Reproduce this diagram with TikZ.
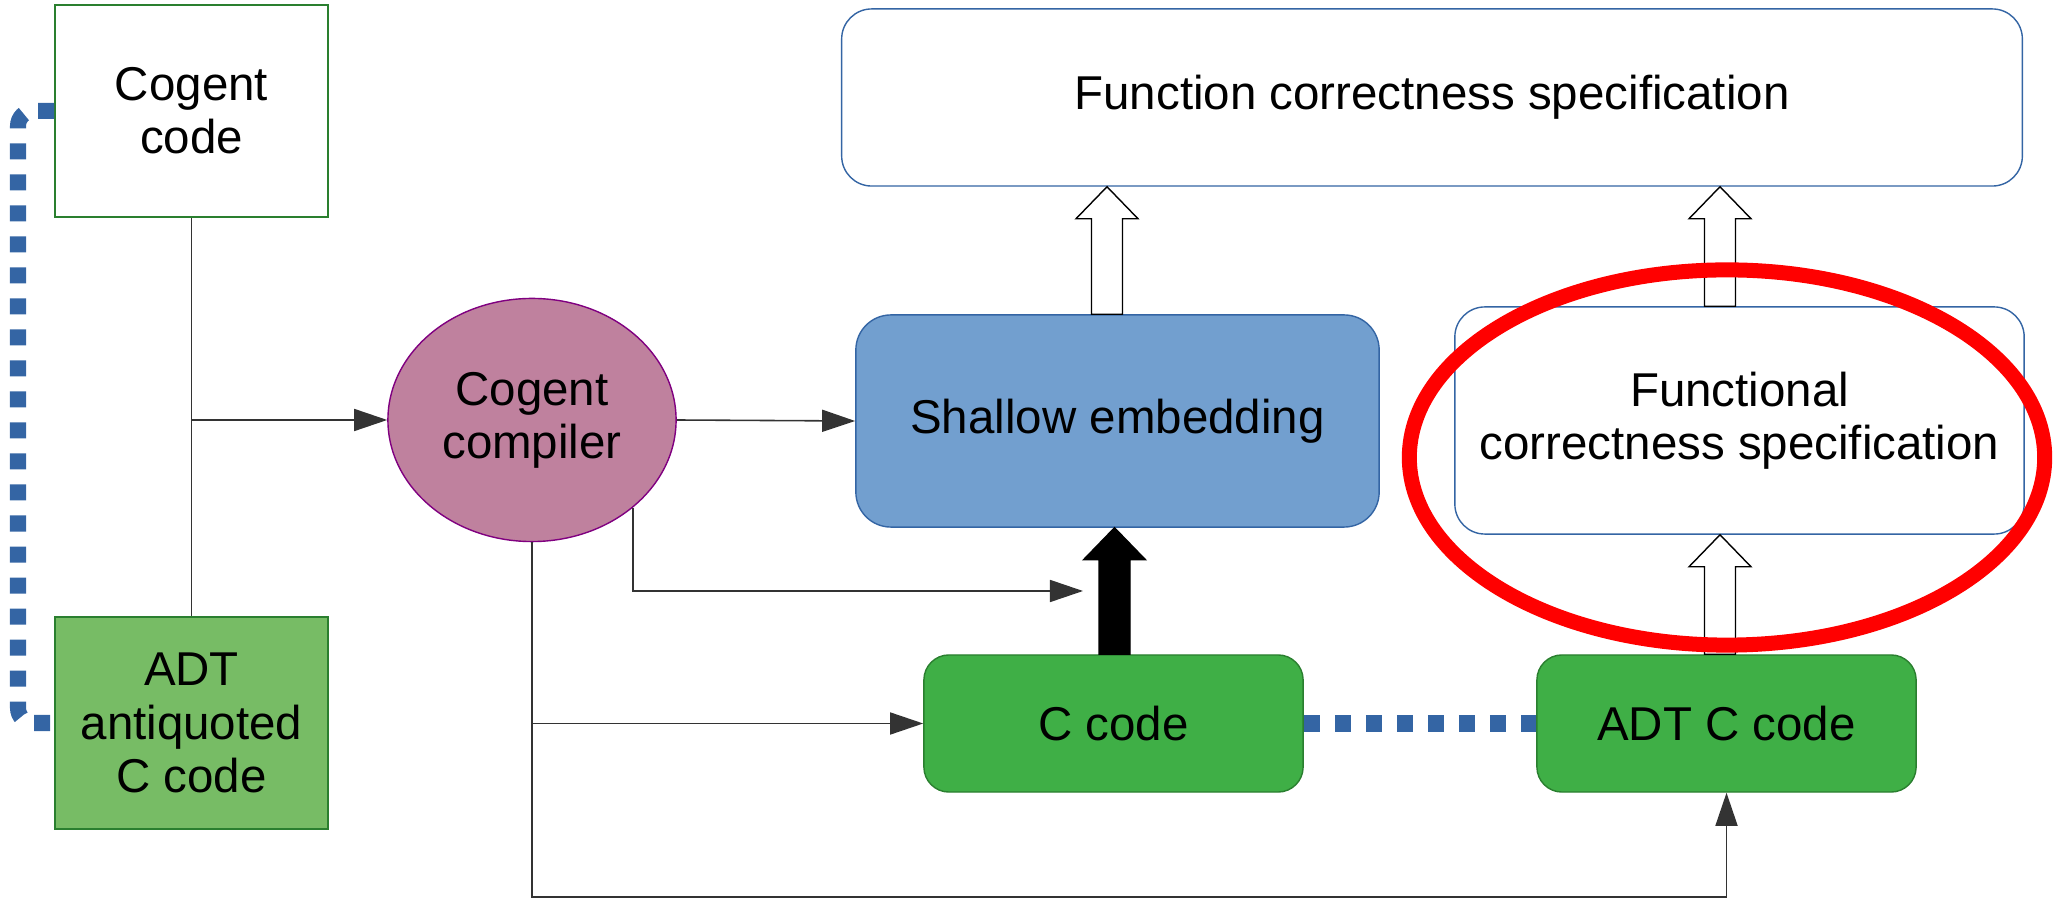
\documentclass[tikz,border=0pt]{standalone}
\usepackage{fontspec}
\setmainfont{Liberation Sans}
\usetikzlibrary{shapes.geometric,arrows.meta,calc}

\definecolor{loblue}{HTML}{3465A4}
\definecolor{lolightblue}{HTML}{729FCF}
\definecolor{logreen}{HTML}{3FAF46}
\definecolor{lolightgreen}{HTML}{77BC65}
\definecolor{lodarkgreen}{HTML}{2A7F2F}
\definecolor{lomagenta}{HTML}{BF819E}
\definecolor{lopurple}{HTML}{800080}

\tikzset{
  box/.style={draw, line width=0.4pt, align=center, inner sep=0pt},
  codebox/.style={box, draw=lodarkgreen, minimum width=2.73cm, minimum height=2.12cm},
  specbox/.style={box, draw=loblue, fill=white, rounded corners=0.3cm},
  greenbox/.style={box, draw=lodarkgreen, fill=logreen, rounded corners=0.25cm, minimum width=3.79cm, minimum height=1.37cm},
  conn/.style={draw=black!80, line width=0.45pt},
  arr/.style={conn, -{Triangle[length=0.33cm, width=0.22cm]}},
  dotline/.style={draw=loblue, line width=0.16cm, dash pattern=on 0.16cm off 0.15cm},
  hollow/.style={draw=black, line width=0.4pt, fill=white},
  solidarrow/.style={fill=black},
}

\begin{document}
\begin{tikzpicture}[x=0.01cm, y=-0.01cm, font=\fontsize{13.5}{15.1}\selectfont]
                        \useasboundingbox (0,0) rectangle (2055,898);

                        \node[codebox, fill=white] (cogent) at (191.5,111) {Cogent\\code};
                        \node[codebox, fill=lolightgreen] (adt) at (191.5,723) {ADT\\antiquoted\\C code};
                        \node[box, ellipse, draw=lopurple, fill=lomagenta, minimum width=2.88cm, minimum height=2.43cm] (compiler) at (532,420) {Cogent\\compiler};
                        \node[box, draw=loblue, fill=lolightblue, rounded corners=0.35cm, minimum width=5.23cm, minimum height=2.12cm] (shallow) at (1117.5,421) {Shallow embedding};
                        \node[greenbox] (ccode) at (1113.5,723.5) {C code};
                        \node[greenbox] (adtc) at (1726.5,723.5) {ADT C code};
                        \node[specbox, minimum width=11.8cm, minimum height=1.77cm] (spec) at (1432,97.5) {Function correctness specification};
                        \node[specbox, minimum width=5.69cm, minimum height=2.27cm] (func) at (1739.5,420.5) {Functional\\correctness specification};

                        \coordinate (lft) at (18,0);
                        \coordinate (bot) at (0,897);
                        \coordinate (cfeed) at (1083,591);

                        \draw[dotline, rounded corners=0.15cm] (cogent.west) -- (cogent.west -| lft) -- (adt.west -| lft) -- (adt.west);
                        \draw[dotline] (ccode.east) -- (adtc.west);

                        \draw[conn] (cogent.south) -- (adt.north);
                        \draw[arr] (cogent.south |- compiler.west) -- (compiler.west);
                        \draw[arr] (compiler.east) -- (shallow.west);
                        \draw[arr] (compiler.-41) |- (cfeed);
                        \draw[arr] (compiler.south) |- (ccode.west);
                        \draw[arr] (compiler.south) -- (compiler.south |- bot) -| (adtc.south);

                        \foreach \from/\to/\dx/\sty in {shallow/spec/-0.105cm/hollow, func/spec/-0.195cm/hollow, adtc/func/-0.065cm/hollow, ccode/shallow/0.01cm/solidarrow} {
                            \draw[\sty] let \p1=([xshift=\dx]\from.north), \p2=(\to.south) in
                                (\x1-0.155cm,\y1) -- (\x1-0.155cm,\y2-0.32cm) -- (\x1-0.31cm,\y2-0.32cm) -- (\x1,\y2)
                                -- (\x1+0.31cm,\y2-0.32cm) -- (\x1+0.155cm,\y2-0.32cm) -- (\x1+0.155cm,\y1) -- cycle;
                        }

                        \node[ellipse, draw=red, line width=0.15cm, minimum width=6.35cm, minimum height=3.75cm, inner sep=0pt] (highlight) at (1727,457.5) {};
                    \end{tikzpicture}
\end{document}
